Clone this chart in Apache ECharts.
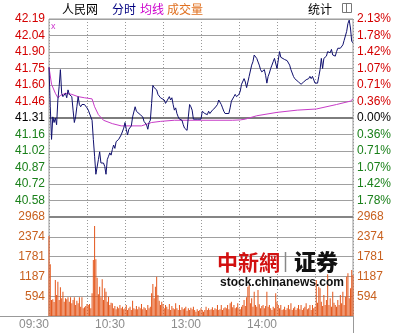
<!DOCTYPE html>
<html><head><meta charset="utf-8">
<script src="https://cdn.jsdelivr.net/npm/echarts@6/dist/echarts.min.js"></script>
<style>html,body{margin:0;padding:0;background:#fff}#c{width:401px;height:333px}</style>
</head><body><div id="c"></div>
<script>
// ---- data ----
const prevClose = 41.31;
const priceRange = 0.88;
const volumeMax = 2968;
const timeLabels = {0: '09:30', 60: '10:30', 120: '13:00', 180: '14:00'};

const priceMinutes = [0,1,2,3,4,5,6,7,8,9,10,11,13,14,15,16,17,18,19,20,21,22,23,24,25,26,28,30,31,32,34,35,36,37,38,39,40,41,42,43,44,45,46,47,48,49,50,51,52,53,54,55,56,57,59,60,61,62,63,65,66,68,69,70,72,74,75,77,78,79,80,81,82,83,85,86,88,89,91,92,93,94,95,96,97,98,99,100,101,102,103,105,106,107,109,110,111,112,113,114,117,120,121,122,123,125,126,127,129,130,131,133,134,135,136,137,138,139,140,142,143,144,146,147,148,150,151,152,154,155,156,157,158,159,160,161,162,163,164,165,166,167,168,170,171,172,173,174,175,176,177,178,179,180,182,183,184,186,188,189,190,191,193,194,195,197,198,199,201,202,203,205,206,207,208,210,211,212,213,214,215,216,217,219,220,222,223,224,226,227,228,230,231,232,233,235,236,237,238,239,240];
const priceValues = [41.76,41.41,41.12,41.32,41.27,41.31,41.25,41.47,41.59,41.74,41.53,41.50,41.53,41.49,41.56,41.52,41.53,41.50,41.38,41.27,41.32,41.41,41.50,41.43,41.41,41.43,41.43,41.40,41.38,41.38,41.29,41.12,40.97,40.81,40.81,40.94,41.01,40.91,40.90,40.91,40.88,40.81,40.94,40.97,41.00,40.98,41.03,41.07,41.04,41.10,41.09,41.12,41.12,41.16,41.22,41.27,41.21,41.16,41.21,41.24,41.32,41.41,41.37,41.36,41.34,41.32,41.28,41.25,41.21,41.27,41.29,41.44,41.60,41.58,41.56,41.52,41.49,41.49,41.47,41.44,41.46,41.47,41.50,41.47,41.49,41.43,41.38,41.40,41.35,41.32,41.30,41.29,41.25,41.22,41.20,41.32,41.43,41.41,41.38,41.30,41.30,41.30,41.37,41.38,41.35,41.34,41.37,41.35,41.38,41.37,41.40,41.43,41.47,41.47,41.43,41.40,41.37,41.35,41.34,41.35,41.40,41.46,41.50,41.52,41.50,41.52,41.55,41.61,41.66,41.63,41.58,41.63,41.68,41.69,41.78,41.81,41.87,41.88,41.84,41.83,41.78,41.74,41.72,41.74,41.69,41.62,41.68,41.71,41.75,41.78,41.81,41.84,41.84,41.75,41.90,41.85,41.84,41.83,41.82,41.81,41.78,41.74,41.68,41.66,41.65,41.63,41.62,41.61,41.63,41.63,41.65,41.66,41.68,41.66,41.68,41.62,41.63,41.62,41.68,41.74,41.84,41.75,41.84,41.86,41.90,41.89,41.92,41.87,41.86,41.90,41.93,41.93,41.94,41.96,42.00,42.08,42.15,42.18,42.11,41.99,41.98];

const avgMinutes = [0,2,5,7,9,13,18,23,28,34,36,39,43,50,57,65,73,81,88,99,110,120,145,151,155,164,180,196,211,227,238,240];
const avgValues = [41.76,41.61,41.53,41.49,41.51,41.53,41.52,41.50,41.49,41.48,41.41,41.34,41.29,41.26,41.24,41.24,41.24,41.27,41.28,41.29,41.29,41.29,41.29,41.293,41.30,41.33,41.36,41.38,41.39,41.43,41.46,41.48];

const volumes = [2400,1550,480,500,420,1080,630,1030,480,860,530,730,430,530,500,560,430,560,380,480,
560,330,460,380,560,280,560,230,260,300,360,330,360,230,680,1680,2700,1700,1150,650,
880,560,1100,480,830,730,430,580,330,400,380,230,300,200,280,230,330,230,280,200,
230,330,180,230,280,180,460,230,200,300,200,280,230,360,200,260,230,180,330,230,
280,680,960,530,880,1180,630,460,330,430,360,230,330,280,200,360,180,300,230,200,
380,230,180,330,180,260,200,230,280,160,230,180,250,200,280,180,130,200,150,180,
230,180,130,180,280,180,230,180,200,260,180,230,200,330,180,200,330,180,230,260,
230,330,200,380,430,260,330,230,260,380,230,200,280,330,480,300,560,880,930,380,
530,280,730,330,280,780,350,230,300,330,230,300,730,280,330,230,180,280,230,680,
430,330,230,330,180,200,280,180,230,330,200,380,180,230,280,180,230,330,200,330,
180,230,280,380,200,230,330,180,330,230,280,1080,400,880,830,430,300,630,330,480,
1250,330,530,280,730,400,330,280,480,330,630,380,730,330,580,1180,1280,530,830,1380,1230];

// ---- styles ----
const RED = '#d40000', GREEN = '#1a801a', VOLC = '#c8601e';
const NUMFONT = 'Liberation Sans, Arial, sans-serif';
const CJK = '"Noto Sans CJK SC", sans-serif';

function signColor(s) {
  const v = parseFloat(s);
  if (v > 1e-6) return RED;
  if (v < -1e-6) return GREEN;
  return '#000';
}

const priceInterval = priceRange / 6;
const volInterval = volumeMax / 5;
const isPriceMin = v => v <= -priceRange + 1e-6;

const chart = echarts.init(document.getElementById('c'), null, {renderer: 'canvas'});
const hSplit = {show: true, lineStyle: {color: '#a0a0a0', width: 1}};
const vSplit = {show: true, lineStyle: {color: '#999', width: 1, type: [1, 2]}};

chart.setOption({
  animation: false,
  backgroundColor: '#fff',
  grid: [
    {left: 49, right: 48, top: 19, height: 198, show: true, borderColor: '#999', borderWidth: 1, backgroundColor: 'transparent'},
    {left: 49, right: 48, top: 217, height: 99, show: true, borderColor: '#999', borderWidth: 1, backgroundColor: 'transparent'}
  ],
  xAxis: [
    {type: 'value', gridIndex: 0, min: 0, max: 240, interval: 30,
     axisLine: {show: false}, axisTick: {show: false}, axisLabel: {show: false}, splitLine: vSplit},
    {type: 'value', gridIndex: 1, min: 0, max: 240, interval: 30,
     axisLine: {show: false}, axisTick: {show: false}, splitLine: vSplit,
     axisLabel: {show: true, align: 'right', margin: 3, color: '#8c8c8c', fontSize: 12, fontFamily: NUMFONT,
       formatter: v => timeLabels[v] || ''}}
  ],
  yAxis: [
    {type: 'value', gridIndex: 0, position: 'left', min: -priceRange, max: priceRange, interval: priceInterval,
     axisLine: {show: false}, axisTick: {show: false}, splitLine: hSplit,
     axisLabel: {margin: 4, fontSize: 12, fontFamily: NUMFONT, color: signColor,
       formatter: v => isPriceMin(v) ? '' : (prevClose + v).toFixed(2)}},
    {type: 'value', gridIndex: 0, position: 'right', min: -priceRange, max: priceRange, interval: priceInterval,
     axisLine: {show: false}, axisTick: {show: false}, splitLine: {show: false},
     axisLabel: {margin: 4, fontSize: 12, fontFamily: NUMFONT, color: signColor,
       formatter: v => isPriceMin(v) ? '' : (Math.abs(v) / prevClose * 100).toFixed(2) + '%'}},
    {type: 'value', gridIndex: 1, position: 'left', min: 0, max: volumeMax, interval: volInterval,
     axisLine: {show: false}, axisTick: {show: false}, splitLine: hSplit,
     axisLabel: {margin: 4, fontSize: 12, fontFamily: NUMFONT, color: VOLC, formatter: v => v < 1 ? '' : String(Math.round(v))}},
    {type: 'value', gridIndex: 1, position: 'right', min: 0, max: volumeMax, interval: volInterval,
     axisLine: {show: false}, axisTick: {show: false}, splitLine: {show: false},
     axisLabel: {margin: 4, fontSize: 12, fontFamily: NUMFONT, color: VOLC, formatter: v => v < 1 ? '' : String(Math.round(v))}}
  ],
  series: [
    {type: 'bar', xAxisIndex: 1, yAxisIndex: 2, barWidth: 1, z: 2,
     itemStyle: {color: '#e4561a'},
     data: volumes.map((v, i) => [i, v]),
     markLine: {silent: true, symbol: 'none', label: {show: false}, animation: false,
       lineStyle: {color: '#858585', width: 2, type: 'solid'}, data: [{yAxis: volumeMax}]}},
    {type: 'line', xAxisIndex: 0, yAxisIndex: 0, showSymbol: false, z: 3,
     lineStyle: {color: '#c83cc8', width: 1}, itemStyle: {color: '#c83cc8'},
     data: avgMinutes.map((m, i) => [m, avgValues[i] - prevClose])},
    {type: 'line', xAxisIndex: 0, yAxisIndex: 0, showSymbol: false, z: 4,
     lineStyle: {color: '#10106e', width: 1}, itemStyle: {color: '#10106e'},
     data: priceMinutes.map((m, i) => [m, priceValues[i] - prevClose]),
     markLine: {silent: true, symbol: 'none', label: {show: false}, animation: false, z: 1,
       lineStyle: {color: '#7d7d7d', width: 2, type: 'solid'}, data: [{yAxis: 0}]}}
  ],
  graphic: [
    {type: 'text', x: 62, y: 9, style: {text: '人民网', fill: '#000', font: '12px ' + CJK, verticalAlign: 'middle'}},
    {type: 'text', x: 112, y: 9, style: {text: '分时', fill: '#000080', font: '12px ' + CJK, verticalAlign: 'middle'}},
    {type: 'text', x: 140, y: 9, style: {text: '均线', fill: '#cc00cc', font: '12px ' + CJK, verticalAlign: 'middle'}},
    {type: 'text', x: 167, y: 9, style: {text: '成交量', fill: '#e07020', font: '12px ' + CJK, verticalAlign: 'middle'}},
    {type: 'text', x: 308, y: 9, style: {text: '统计', fill: '#000', font: '12px ' + CJK, verticalAlign: 'middle'}},
    {type: 'rect', shape: {x: 342.5, y: 3.5, width: 9, height: 9}, style: {stroke: '#777', fill: '#fff', lineWidth: 1}},
    {type: 'line', shape: {x1: 346.5, y1: 3.5, x2: 346.5, y2: 12.5}, style: {stroke: '#777', lineWidth: 1}},
    {type: 'text', x: 51, y: 27, style: {text: 'x', fill: '#cc33cc', font: '9px ' + NUMFONT, verticalAlign: 'middle'}},
    {type: 'line', shape: {x1: 0, y1: 316.5, x2: 49, y2: 316.5}, style: {stroke: '#999', lineWidth: 1}},
    {type: 'line', shape: {x1: 353.5, y1: 316, x2: 353.5, y2: 333}, style: {stroke: '#999', lineWidth: 1}},
    {type: 'text', x: 217, y: 262, z: 100, style: {text: '中新網', fill: '#d21010', font: 'bold 21px "Noto Sans CJK TC", sans-serif', verticalAlign: 'middle'}},
    {type: 'line', z: 100, shape: {x1: 285.5, y1: 252, x2: 285.5, y2: 272}, style: {stroke: '#888', lineWidth: 1.5}},
    {type: 'text', x: 294, y: 262, z: 100, style: {text: '证券', fill: '#111', font: '900 22px ' + CJK, verticalAlign: 'middle'}},
    {type: 'text', x: 220, y: 283, z: 100, style: {text: 'stock.chinanews.com', fill: '#111', font: 'bold 12px ' + NUMFONT, verticalAlign: 'middle'}}
  ]
});
</script>
</body></html>
